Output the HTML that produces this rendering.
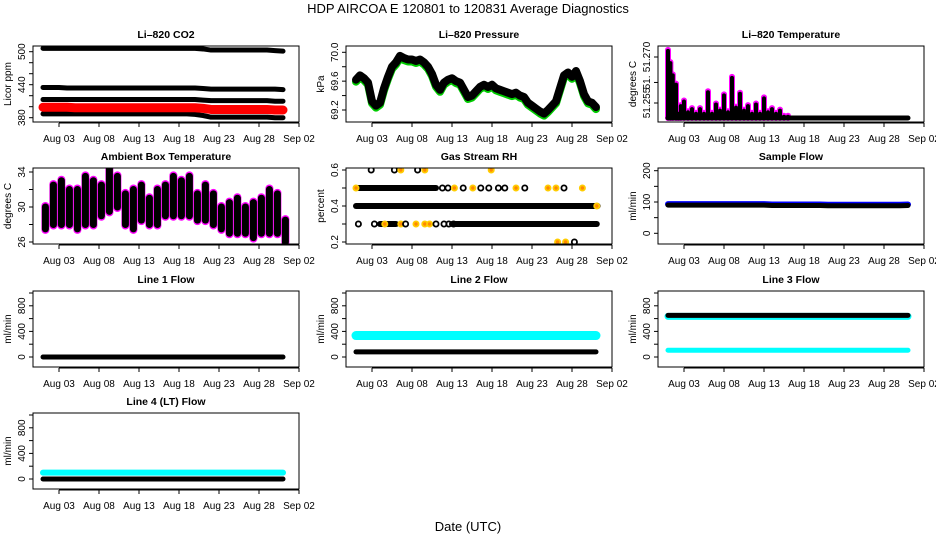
<!DOCTYPE html>
<html><head><meta charset="utf-8">
<style>
html,body{margin:0;padding:0;background:#fff;}
svg{display:block;font-family:"Liberation Sans",Arial,sans-serif;}
</style></head>
<body>
<svg id="chart" width="936" height="540" viewBox="0 0 936 540" xmlns="http://www.w3.org/2000/svg">
<text x="468" y="13" text-anchor="middle" font-size="13">HDP    AIRCOA E    120801 to 120831    Average Diagnostics</text>
<text x="468" y="531" text-anchor="middle" font-size="13">Date (UTC)</text>
</svg>
<script>
// ---- data ----
const xTickDays = [3, 8, 13, 18, 23, 28, 33];
const xTickLabels = ["Aug 03", "Aug 08", "Aug 13", "Aug 18", "Aug 23", "Aug 28", "Sep 02"];
const days = [1,2,3,4,5,6,7,8,9,10,11,12,13,14,15,16,17,18,19,20,21,22,23,24,25,26,27,28,29,30,31];

const co2Hi   = [506,506,506,506,506,506,506,506,506,506,506,506,506,506,506,506,506,506,506,506,505,503,503,503,503,503,503,503,503,502,501];
const co2Mid  = [435,435,435,434,434,434,434,434,434,434,434,434,434,434,434,434,434,434,434,434,433,432,432,432,432,432,432,432,432,432,431];
const co2Low1 = [413,413,413,413,413,413,413,413,413,413,413,413,413,413,413,413,413,413,413,413,412,411,411,411,411,411,411,411,411,410,410];
const co2Red  = [399,399,399,399,398,398,398,398,398,398,398,398,398,398,398,398,398,398,398,398,397,395,395,395,395,395,395,395,395,394,394];
const co2Low2 = [387,387,387,387,387,387,387,387,387,387,387,387,387,387,387,387,387,387,387,386,384,381,381,381,381,381,381,381,381,380,380];

const pDays = [1,1.5,2,2.5,3,3.5,4,4.5,5,5.5,6,6.5,7,7.5,8,8.5,9,9.5,10,10.5,11,11.5,12,12.5,13,13.5,14,14.5,15,15.5,16,16.5,17,17.5,18,18.5,19,19.5,20,20.5,21,21.5,22,22.5,23,23.5,24,24.5,25,25.5,26,26.5,27,27.5,28,28.5,29,29.5,30,30.5,31];
const pVals = [69.62,69.68,69.64,69.58,69.32,69.26,69.3,69.5,69.66,69.8,69.86,69.95,69.92,69.9,69.9,69.88,69.9,69.86,69.8,69.7,69.55,69.48,69.58,69.62,69.64,69.6,69.58,69.48,69.38,69.4,69.46,69.52,69.55,69.52,69.55,69.5,69.48,69.46,69.44,69.42,69.44,69.4,69.38,69.3,69.26,69.22,69.18,69.15,69.2,69.26,69.32,69.5,69.68,69.72,69.66,69.74,69.6,69.42,69.32,69.3,69.24];

const tDays = [1,1.3,1.6,2,2.3,2.6,3,3.5,4,4.5,5,5.5,6,6.5,7,7.5,8,8.5,9,9.5,10,10.5,11,11.5,12,12.5,13,13.5,14,14.5,15,15.5,16];
const tVals = [51.272,51.268,51.264,51.261,51.2515,51.254,51.2555,51.252,51.253,51.2515,51.253,51.2515,51.2585,51.2515,51.2545,51.2525,51.2575,51.252,51.2632,51.2535,51.258,51.2525,51.254,51.2515,51.2545,51.2515,51.2565,51.252,51.253,51.2515,51.2525,51.2505,51.2505];
const tBase = 51.2501;
const tTicks = [51.255, 51.2617, 51.270];
const tTickLabels = ["51.255", "51.", "51.270"];

const ambMin = [27.5,28,28,28,27.5,28,28,29,29.5,30,28,27.5,28.5,28,28,29,29,29,29,28.5,28.5,28,27.5,27,27,27,26.5,27,27,27,26];
const ambMax = [30,32.5,33,32,32,33.5,33,32.5,34.5,33.5,31.5,32,32.5,31,32,32.5,33.5,33,33.5,31.5,32.5,31.5,30,30.5,31,30,30.5,31,32,31.5,28.5];

const rhSegLevel = [0.4, 0.5, 0.3, 0.3];
const rhSegStart = [1, 1.3, 4, 13];
const rhSegEnd   = [31.2, 11, 6, 31.1];
const rhPtLevel = [0.6,0.6,0.6,0.6,0.6,0.6,0.5,0.5,0.5,0.5,0.5,0.5,0.5,0.5,0.5,0.5,0.5,0.5,0.5,0.5,0.5,0.5,0.3,0.3,0.3,0.3,0.3,0.3,0.3,0.3,0.3,0.3,0.3,0.3,0.2,0.2,0.2,0.4];
const rhPtDay   = [2.9,5.8,6.6,8.7,9.6,17.9,1,11.8,12.5,13.3,14.4,15.6,16.6,17.6,18.8,19.6,21,22.1,25,26,27,29.3,1.3,3.3,4.6,6.6,7.2,8.5,9.6,10.2,11,12,12.6,13.2,26.2,27.2,28.3,31.1];
const rhPtOrange = [0,0,1,0,1,1,1,0,0,1,0,1,0,0,0,0,1,0,1,1,0,1,0,0,1,1,0,1,1,1,0,0,0,0,1,1,0,1];

const sampleFlow = [90,90,90,90,90,90,90,90,90,90,90,90,90,89,89,89,89,89,89,89,88,88,88,88,88,88,88,88,88,88,89];
const line1Black = [0,0,0,0,0,0,0,0,0,0,0,0,0,0,0,0,0,0,0,0,0,0,0,0,0,0,0,0,0,0,0];
const line1Cyan  = [-8,-8,-8,-8,-8,-8,-8,-8,-8,-8,-8,-8,-8,-8,-8,-8,-8,-8,-8,-8,-8,-8,-8,-8,-8,-8,-8,-8,-8,-8,-8];
const line2Cyan  = [335,335,335,335,335,335,335,335,335,335,335,335,335,335,335,335,335,335,335,335,335,335,335,335,335,335,335,335,335,335,335];
const line2Black = [80,80,80,80,80,80,80,80,80,80,80,80,80,80,80,80,80,80,80,80,80,80,80,80,80,80,80,80,80,80,80];
const line3Black = [650,650,650,650,650,650,650,650,650,650,650,650,650,650,650,650,650,650,650,650,650,650,650,650,650,650,650,650,650,650,650];
const line3Cyan  = [105,105,105,105,105,105,105,105,105,105,105,105,105,105,105,105,105,105,105,105,105,105,105,105,105,105,105,105,105,105,105];
const line4Cyan  = [100,100,100,100,100,100,100,100,100,100,100,100,100,100,100,100,100,100,100,100,100,100,100,100,100,100,100,100,100,100,100];
const line4Black = [0,0,0,0,0,0,0,0,0,0,0,0,0,0,0,0,0,0,0,0,0,0,0,0,0,0,0,0,0,0,0];

const flowTicks = [0,200,400,600,800,1000];
const flowLabels = ["0","","400","","800",""];

// ---- drawing ----
const NS = "http://www.w3.org/2000/svg";
const svg = document.getElementById("chart");
const colL = [33, 346, 658];
const rowT = [46, 168, 291, 413];
const W = 266, H = 76;

function el(tag, attrs, parent) {
  const e = document.createElementNS(NS, tag);
  for (const k in attrs) e.setAttribute(k, attrs[k]);
  (parent || svg).appendChild(e);
  return e;
}

function makePanel(col, row, name, title, ylab, v0, r0, v1, r1, ticks, labels, axisSpan) {
  const g = el("g", {});
  
  
  const L = colL[col], T = rowT[row];
  const xs = d => L + 10 + 8 * (d - 1);
  const ys = v => T + r0 + (v - v0) * (r1 - r0) / (v1 - v0);
  const clip = el("clipPath", { id: "clip-" + name }, g);
  el("rect", { x: L, y: T, width: W, height: H }, clip);
  const plot = el("g", { "clip-path": "url(#clip-" + name + ")" }, g);
  
  
  const frame = el("rect", { x: L, y: T, width: W, height: H, fill: "none", stroke: "#000", "stroke-width": 1 }, g);
  
  
  const t = el("text", { x: L + W / 2, y: T - 8, "text-anchor": "middle", "font-size": 10.5, "font-weight": "bold" }, g);
  t.textContent = title;
  
  
  const xa = el("g", {}, g);
  
  
  el("line", { x1: xs(xTickDays[0]), x2: xs(xTickDays[xTickDays.length - 1]), y1: T + H + 1, y2: T + H + 1, stroke: "#000" }, xa);
  xTickDays.forEach((d, i) => {
    el("line", { x1: xs(d), x2: xs(d), y1: T + H + 1, y2: T + H + 5, stroke: "#000" }, xa);
    const tx = el("text", { x: xs(d), y: T + H + 20, "text-anchor": "middle", "font-size": 10 }, xa);
    tx.textContent = xTickLabels[i];
    
    
  });
  const ya = el("g", {}, g);
  
  
  const yAxisX = L;
  el("line", { x1: yAxisX, x2: yAxisX, y1: ys(ticks[0]), y2: ys(ticks[ticks.length - 1]), stroke: "#000" }, ya);
  ticks.forEach((v, i) => {
    el("line", { x1: yAxisX - 4, x2: yAxisX, y1: ys(v), y2: ys(v), stroke: "#000" }, ya);
    if (labels[i]) {
      const lx = yAxisX - 8, ly = ys(v);
      const tx = el("text", { x: lx, y: ly, "text-anchor": "middle", "font-size": 10, transform: "rotate(-90 " + lx + " " + ly + ")" }, ya);
      tx.textContent = labels[i];
      
      
    }
  });
  const yx = L - 22, yy = T + H / 2;
  const yl = el("text", { x: yx, y: yy, "text-anchor": "middle", "font-size": 10, transform: "rotate(-90 " + yx + " " + yy + ")" }, g);
  yl.textContent = ylab;
  
  
  return { plot, xs, ys };
}

function band(p, dArr, vArr, color, width, name, dy) {
  const pts = dArr.map((d, i) => p.xs(d) + "," + (p.ys(vArr[i]) + (dy || 0))).join(" ");
  const pl = el("polyline", { points: pts, fill: "none", stroke: color, "stroke-width": width, "stroke-linecap": "round", "stroke-linejoin": "round" }, p.plot);
  
  
}

// Li-820 CO2
let p = makePanel(0, 0, "co2", "Li\u2013820 CO2", "Licor ppm", 500, 5.7, 380, 71.7, [380,400,420,440,460,480,500], ["380","","","440","","","500"]);
band(p, days, co2Hi, "#000", 5, "co2-series-high");
band(p, days, co2Mid, "#000", 5, "co2-series-mid");
band(p, days, co2Low1, "#000", 5, "co2-series-low1");
band(p, days, co2Low2, "#000", 5, "co2-series-low2");
band(p, days, co2Red, "#f00", 9, "co2-series-red");

// Li-820 Pressure
p = makePanel(1, 0, "pressure", "Li\u2013820 Pressure", "kPa", 70.0, 6.3, 69.2, 64, [69.2,69.4,69.6,69.8,70.0], ["69.2","","69.6","","70.0"]);
band(p, pDays, pVals, "#0c0", 8, "pressure-series-green", 2);
band(p, pDays, pVals, "#000", 8, "pressure-series");

// Li-820 Temperature
p = makePanel(2, 0, "temperature", "Li\u2013820 Temperature", "degrees C", 51.270, 11, 51.255, 57, tTicks, tTickLabels);
tDays.forEach((d, i) => {
  const m = el("line", { x1: p.xs(d), x2: p.xs(d), y1: p.ys(tBase), y2: p.ys(tVals[i]) - 1, stroke: "#f0f", "stroke-width": 6, "stroke-linecap": "round" }, p.plot);
  
  
});
tDays.forEach((d, i) => {
  const m = el("line", { x1: p.xs(d), x2: p.xs(d), y1: p.ys(tBase), y2: p.ys(tVals[i]), stroke: "#000", "stroke-width": 4, "stroke-linecap": "round" }, p.plot);
  
  
});
band(p, [tDays[0], 31], [tBase, tBase], "#000", 5, "temperature-baseline");

// Ambient Box Temperature
p = makePanel(0, 1, "ambient", "Ambient Box Temperature", "degrees C", 34, 4, 26, 74, [26,28,30,32,34], ["26","","30","","34"]);
days.forEach((d, i) => {
  const a = el("line", { x1: p.xs(d + 0.3), x2: p.xs(d + 0.3), y1: p.ys(ambMin[i]) + 1, y2: p.ys(ambMax[i]) - 1, stroke: "#f0f", "stroke-width": 8, "stroke-linecap": "round" }, p.plot);
  
  
  const b = el("line", { x1: p.xs(d + 0.3), x2: p.xs(d + 0.3), y1: p.ys(ambMin[i]), y2: p.ys(ambMax[i]), stroke: "#000", "stroke-width": 7, "stroke-linecap": "round" }, p.plot);
  
  
});

// Gas Stream RH
p = makePanel(1, 1, "rh", "Gas Stream RH", "percent", 0.6, 2, 0.2, 74, [0.2,0.3,0.4,0.5,0.6], ["0.2","","0.4","","0.6"]);
rhSegLevel.forEach((lv, i) => {
  const s = el("line", { x1: p.xs(rhSegStart[i]), x2: p.xs(rhSegEnd[i]), y1: p.ys(lv), y2: p.ys(lv), stroke: "#000", "stroke-width": 6, "stroke-linecap": "round" }, p.plot);
  
  
});
rhPtDay.forEach((d, i) => {
  const c = el("circle", { cx: p.xs(d), cy: p.ys(rhPtLevel[i]), r: 2.6, fill: rhPtOrange[i] ? "#f80" : "none", stroke: rhPtOrange[i] ? "#fc0" : "#000", "stroke-width": 1.8 }, p.plot);
  
  
});

// Sample Flow
p = makePanel(2, 1, "sample-flow", "Sample Flow", "ml/min", 200, 2.7, 0, 65.3, [0,50,100,150,200], ["0","","100","","200"]);
band(p, days, sampleFlow, "#00f", 6, "sample-flow-blue", -1);
band(p, days, sampleFlow, "#000", 5, "sample-flow-series");

// Line flows
p = makePanel(0, 2, "line1-flow", "Line 1 Flow", "ml/min", 1000, 2, 0, 66, flowTicks, flowLabels);
band(p, days, line1Cyan, "#0ff", 2, "line1-flow-cyan");
band(p, days, line1Black, "#000", 5, "line1-flow-series");

p = makePanel(1, 2, "line2-flow", "Line 2 Flow", "ml/min", 1000, 2, 0, 66, flowTicks, flowLabels);
band(p, days, line2Cyan, "#0ff", 9, "line2-flow-cyan");
band(p, days, line2Black, "#000", 5, "line2-flow-series");

p = makePanel(2, 2, "line3-flow", "Line 3 Flow", "ml/min", 1000, 2, 0, 66, flowTicks, flowLabels);
band(p, days, line3Cyan, "#0ff", 5, "line3-flow-cyan");
band(p, days, line3Black, "#0ff", 7, "line3-flow-cyan-under", 1);
band(p, days, line3Black, "#000", 5, "line3-flow-series");

p = makePanel(0, 3, "line4-flow", "Line 4 (LT) Flow", "ml/min", 1000, 2, 0, 66, flowTicks, flowLabels);
band(p, days, line4Cyan, "#0ff", 6, "line4-flow-cyan");
band(p, days, line4Black, "#000", 5, "line4-flow-series");
</script>
</body></html>
